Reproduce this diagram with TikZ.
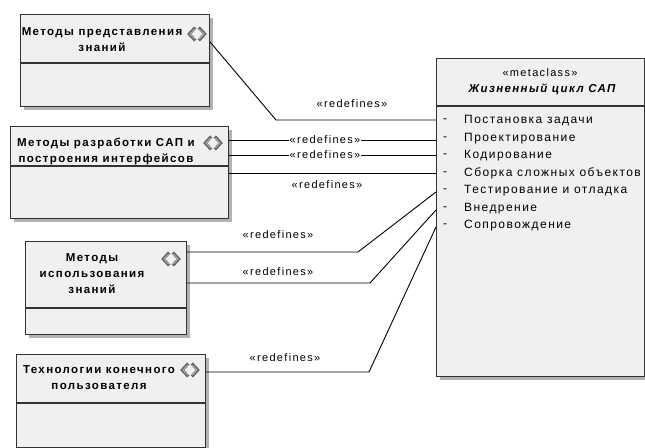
\documentclass[tikz,border=0pt]{standalone}
\usepackage{fontspec}
\setmainfont{Liberation Sans}
\usetikzlibrary{shadows}
\newfontfamily\spaced[LetterSpace=12]{Liberation Sans}
\tikzset{
  umlbox/.style={draw=black!80, line width=1.1bp, fill=black!6, inner sep=0pt, anchor=north west,
    drop shadow={shadow xshift=3bp, shadow yshift=-3bp, fill=black!30, opacity=1}},
  title/.style={font=\spaced\fontsize{11.5bp}{16bp}\selectfont\bfseries, align=center, inner sep=0pt},
  attr/.style={font=\spaced\fontsize{12bp}{14bp}\selectfont, anchor=west, inner sep=0pt},
  lbl/.style={font=\spaced\fontsize{11bp}{13bp}\selectfont, inner sep=1bp},
  conn/.style={draw=black, line width=0.9bp},
  sepline/.style={draw=black!80, line width=1.1bp},
  pics/icon/.style={code={
    \draw[line width=3bp, black!60, line join=miter] (-1.8,-6.5) -- (-7.8,0) -- (-1.8,6.5);
    \draw[line width=3bp, black!60, line join=miter] (1.8,-6.5) -- (7.8,0) -- (1.8,6.5);
    \draw[line width=0.9bp, black!30] (-2.4,-5) -- (-7,0) -- (-2.4,5);
    \draw[line width=0.9bp, black!30] (2.4,-5) -- (7,0) -- (2.4,5);
  }}
}
\begin{document}
\begin{tikzpicture}[x=1bp,y=-1bp]
\useasboundingbox (0,0) rectangle (645,448);
\begin{scope}
\clip (0,0) rectangle (645,448);
% boxes
\node[umlbox, minimum width=189bp, minimum height=92bp] (b1) at (20,14) {};
\node[umlbox, minimum width=218bp, minimum height=92bp] (b2) at (10,126) {};
\node[umlbox, minimum width=161bp, minimum height=93bp] (b3) at (25,241) {};
\node[umlbox, minimum width=189bp, minimum height=93bp] (b4) at (16,354) {};
\node[umlbox, minimum width=208bp, minimum height=318bp] (big) at (436,58) {};
\end{scope}
% separators
\draw[sepline] (b1.west |- 0,63) -- (b1.east |- 0,63);
\draw[sepline] (b2.west |- 0,166) -- (b2.east |- 0,166);
\draw[sepline] (b3.west |- 0,308) -- (b3.east |- 0,308);
\draw[sepline] (b4.west |- 0,403) -- (b4.east |- 0,403);
\draw[sepline] (big.west |- 0,106) -- (big.east |- 0,106);
% titles
\node[title] (t1) at (102,40) {Методы представления\\знаний};
\node[title] (t2) at (106,151) {Методы разработки САП и\\построения интерфейсов};
\node[title] (t3) at (92,274) {Методы\\использования\\знаний};
\node[title] (t4) at (99,378) {Технологии конечного\\пользователя};
% icons
\pic at (197,34) {icon};
\pic at (213,143) {icon};
\pic at (171,259) {icon};
\pic at (190,370) {icon};
% big box header
\node[font=\spaced\fontsize{11bp}{13bp}\selectfont, inner sep=0pt] (mc) at (540,73) {«metaclass»};
\node[font=\spaced\fontsize{11.5bp}{14bp}\selectfont\bfseries\itshape, inner sep=0pt] (lc) at (542,89) {Жизненный цикл САП};
% attributes
\foreach \t [count=\i] in {Постановка задачи,Проектирование,Кодирование,Сборка сложных объектов,Тестирование и отладка,Внедрение,Сопровождение}{
  \node[attr] (d\i) at (443,{103.5+17.5*\i}) {-};
  \node[attr] (a\i) at (464,{103.5+17.5*\i}) {\t};
}
% connectors
\coordinate (k1) at (276,120);
\draw[conn] (b1.north east |- 0,42) -- (k1) -- (big.west |- k1);
\node[lbl] (l1) at (352,104) {«redefines»};
\draw[conn] (b2.east |- 0,140) -- (big.west |- 0,140);
\node[lbl, fill=white] (l2) at (325,140) {«redefines»};
\draw[conn] (b2.east |- 0,155) -- (big.west |- 0,155);
\node[lbl, fill=white] (l3) at (325,155) {«redefines»};
\draw[conn] (b2.east |- 0,173) -- (big.west |- 0,173);
\node[lbl] (l4) at (327,185) {«redefines»};
\coordinate (k5) at (358,252);
\draw[conn] (b3.east |- k5) -- (k5) -- (big.west |- 0,192);
\node[lbl] (l5) at (278,235) {«redefines»};
\coordinate (k6) at (370,283);
\draw[conn] (b3.east |- k6) -- (k6) -- (big.west |- 0,210);
\node[lbl] (l6) at (278,272) {«redefines»};
\coordinate (k7) at (369,372);
\draw[conn] (b4.east |- k7) -- (k7) -- (big.west |- 0,227);
\node[lbl] (l7) at (285,358) {«redefines»};
\end{tikzpicture}
\end{document}
